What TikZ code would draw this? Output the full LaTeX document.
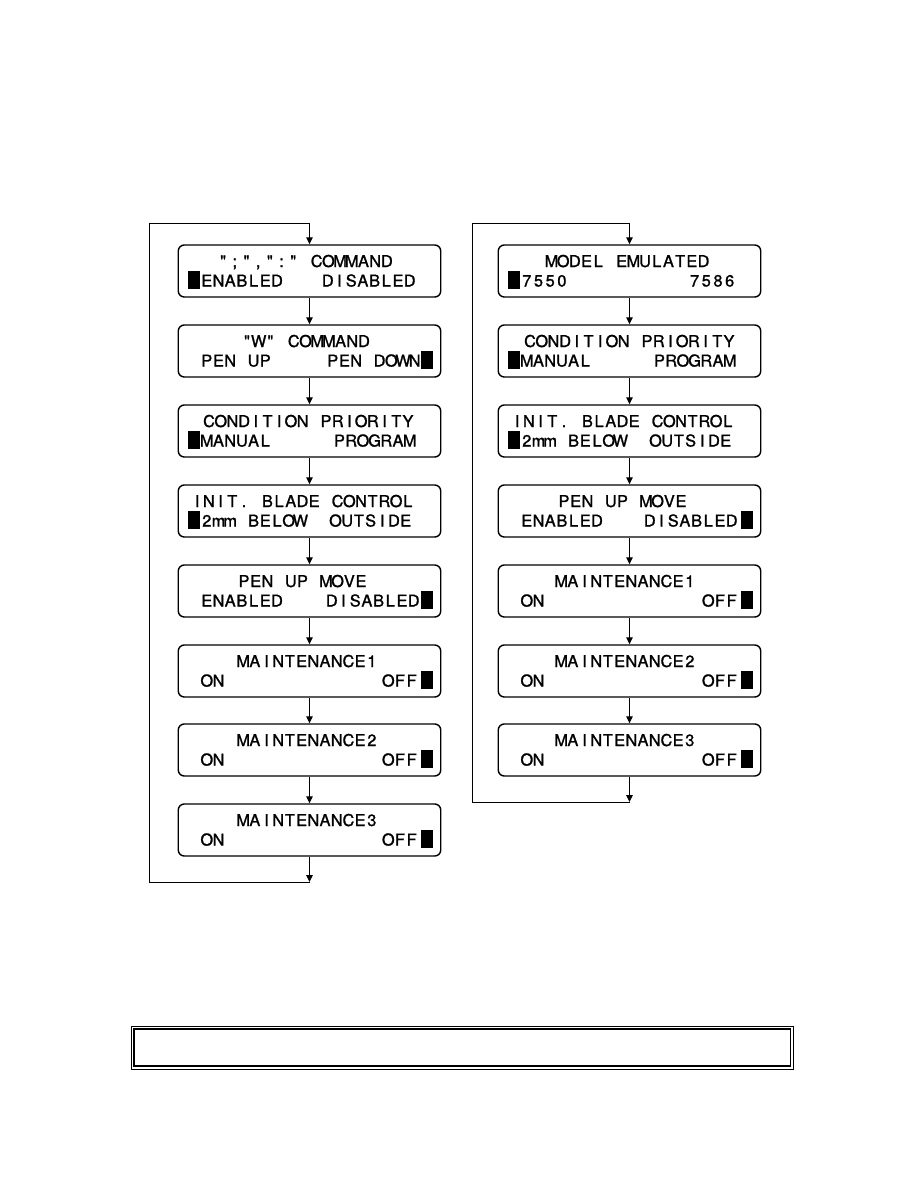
\documentclass[tikz,border=0pt]{standalone}
\usepackage{fontspec}
\newfontfamily\lcdfont{TeX Gyre Heros}[FakeBold=1.3]
\usetikzlibrary{arrows.meta}
\newlength\lcdw \setlength\lcdw{11.7pt}
\def\lcd#1{\lcdi#1\relax}
\def\lcdi#1{\ifx#1\relax\else\makebox[\lcdw]{#1}\expandafter\lcdi\fi}
\tikzset{
  lcdbox/.style={draw, line width=1.4pt, rounded corners=6pt, minimum width=262.5pt, minimum height=52pt, inner sep=0pt},
  lcdtxt/.style={inner sep=0pt, font=\lcdfont\fontsize{16.3}{18}\selectfont},
  cursor/.style={fill=black, draw=none, inner sep=0pt, minimum width=12pt, minimum height=18pt, anchor=north west},
  arr/.style={line width=1pt, -{Triangle[length=7pt,width=6.5pt]}},
}
% #1 name, #2 centre x, #3 top y, #4 title dx, #5 title, #6 left text, #7 right text, #8 cursor side (l/r/n), #9 right text end offset
\newcommand\panelbox[9]{%
  \node[lcdbox] (#1) at (#2,#3+26) {};
  \node[lcdtxt, anchor=base] (#1-t) at (#2+#4,#3+22) {\lcd{#5}};
  \node[lcdtxt, anchor=base west] (#1-l) at (#2-131.25+22.5,#3+41.5) {\lcd{#6}};
  \node[lcdtxt, anchor=base east] (#1-r) at (#2+131.25-#9,#3+41.5) {\lcd{#7}};
  \ifx l#8\node[cursor] (#1-c) at (#2-131.25+9.5,#3+26) {};\fi
  \ifx r#8\node[cursor] (#1-c) at (#2+131.25-20,#3+26) {};\fi
}
\begin{document}
\begin{tikzpicture}[x=1pt,y=-1pt]
\useasboundingbox (0,0) rectangle (918,1188);
% left column
\panelbox{l1}{309.5}{245}{-4.5}{";",":"~COMMAND}{ENABLED}{DISABLED}{l}{25}
\panelbox{l2}{309.5}{325}{-4}{"W"~COMMAND}{PEN~UP}{PEN~DOWN}{r}{20}
\panelbox{l3}{309.5}{405}{-1}{CONDITION~PRIORITY}{MANUAL}{PROGRAM}{l}{25}
\panelbox{l4}{309.5}{485}{-7}{INIT.~BLADE~CONTROL}{2mm~BELOW}{OUTSIDE}{l}{29}
\panelbox{l5}{309.5}{565}{-7}{PEN~UP~MOVE}{ENABLED}{DISABLED}{r}{21}
\panelbox{l6}{309.5}{645}{-2}{MAINTENANCE1}{ON}{OFF}{r}{23}
\panelbox{l7}{309.5}{724}{-2}{MAINTENANCE2}{ON}{OFF}{r}{23}
\panelbox{l8}{309.5}{804}{-2}{MAINTENANCE3}{ON}{OFF}{r}{23}
% right column
\panelbox{r1}{629.5}{245}{-2}{MODEL~EMULATED}{7550}{7586}{l}{25}
\panelbox{r2}{629.5}{325}{0}{CONDITION~PRIORITY}{MANUAL}{PROGRAM}{l}{25}
\panelbox{r3}{629.5}{405}{-7}{INIT.~BLADE~CONTROL}{2mm~BELOW}{OUTSIDE}{l}{29}
\panelbox{r4}{629.5}{485}{-7}{PEN~UP~MOVE}{ENABLED}{DISABLED}{r}{23}
\panelbox{r5}{629.5}{565}{-4}{MAINTENANCE1}{ON}{OFF}{r}{23}
\panelbox{r6}{629.5}{645}{-4}{MAINTENANCE2}{ON}{OFF}{r}{23}
\panelbox{r7}{629.5}{724}{-4}{MAINTENANCE3}{ON}{OFF}{r}{23}
% connectors
\foreach \a/\b in {l1/l2,l2/l3,l3/l4,l4/l5,l5/l6,l6/l7,l7/l8,r1/r2,r2/r3,r3/r4,r4/r5,r5/r6,r6/r7}
  \draw[arr] (\a) -- (\b);
\coordinate (lt) at (309.5,223);
\coordinate (lb) at (309.5,882);
\coordinate (ltc) at (149,223);
\coordinate (lbc) at (149,882);
\draw[arr] (l8) -- (lb);
\draw[arr] (lb) -- (lbc) -- (ltc) -- (lt) -- (l1);
\coordinate (rt) at (629.5,223);
\coordinate (rb) at (629.5,802);
\coordinate (rtc) at (472.5,223);
\coordinate (rbc) at (472.5,802);
\draw[arr] (r7) -- (rb);
\draw[arr] (rb) -- (rbc) -- (rtc) -- (rt) -- (r1);
% bottom double frame
\draw[line width=0.9pt] (131,1026) rectangle (793.5,1069);
\draw[line width=1.8pt] (134,1029) rectangle (790.5,1066);
\end{tikzpicture}
\end{document}
